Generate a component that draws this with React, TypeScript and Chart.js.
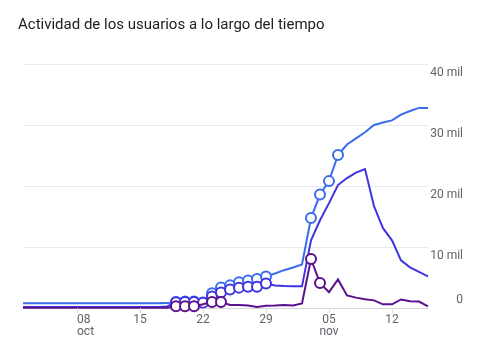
import React, { useEffect, useRef } from 'react';
import { Chart, registerables } from 'chart.js';

Chart.register(...registerables);

const TITLE = 'Actividad de los usuarios a lo largo del tiempo';

const categories = [
  'oct 02', 'oct 03', 'oct 04', 'oct 05', 'oct 06', 'oct 07', 'oct 08', 'oct 09', 'oct 10', 'oct 11',
  'oct 12', 'oct 13', 'oct 14', 'oct 15', 'oct 16', 'oct 17', 'oct 18', 'oct 19', 'oct 20', 'oct 21',
  'oct 22', 'oct 23', 'oct 24', 'oct 25', 'oct 26', 'oct 27', 'oct 28', 'oct 29', 'oct 30', 'oct 31',
  'nov 01', 'nov 02', 'nov 03', 'nov 04', 'nov 05', 'nov 06', 'nov 07', 'nov 08', 'nov 09', 'nov 10',
  'nov 11', 'nov 12', 'nov 13', 'nov 14', 'nov 15', 'nov 16',
];

const users30 = [
  780, 780, 780, 780, 780, 780, 780, 780, 780, 780,
  780, 780, 780, 780, 780, 790, 800, 1000, 1050, 1050,
  900, 2400, 3380, 3710, 4230, 4500, 4740, 5160, 5650, 6200,
  6640, 7150, 14750, 18600, 20800, 25080, 26800, 27800, 28800, 30000,
  30400, 30750, 31700, 32300, 32800, 32800,
];

const users7 = [
  150, 150, 150, 150, 150, 150, 150, 150, 150, 150,
  150, 150, 150, 150, 150, 150, 250, 950, 1000, 1000,
  880, 1890, 2550, 3040, 3340, 3500, 3490, 4030, 3700, 3600,
  3550, 3550, 11100, 14390, 17190, 20150, 21300, 22200, 22780, 16690,
  13080, 11100, 7810, 6660, 5920, 5180,
];

const users1 = [
  50, 50, 50, 50, 50, 50, 50, 50, 50, 50,
  50, 50, 50, 50, 50, 50, 50, 300, 300, 300,
  600, 1000, 1000, 500, 500, 400, 150, 350, 400, 500,
  400, 750, 8030, 4080, 2600, 4690, 2060, 1700, 1450, 1250,
  600, 600, 1400, 1100, 1050, 250,
];

const marked30 = [17, 18, 19, 20, 21, 22, 23, 24, 25, 26, 27, 32, 33, 34, 35];
const marked7 = [17, 18, 19, 20, 21, 22, 23, 24, 25, 26, 27];
const marked1 = [17, 18, 19, 21, 22, 32, 33];

const seriesNames = ['1 día', '7 días', '30 días'];

const yTickValues = [0, 10000, 20000, 30000, 40000];
const yTickLabels = ['0', '10 mil', '20 mil', '30 mil', '40 mil'];

const xTickCategories = ['oct 08', 'oct 15', 'oct 22', 'oct 29', 'nov 05', 'nov 12'];
const xTickLines = [['08', 'oct'], ['15'], ['22'], ['29'], ['05', 'nov'], ['12']];

const radii = (marked: number[]) => categories.map((_, i) => (marked.includes(i) ? 5 : 0));

const labelPlugin = {
  id: 'gaLabels',
  afterDraw(chart: any) {
    const { ctx } = chart;
    const x = chart.scales.x;
    const y = chart.scales.y;
    ctx.save();
    ctx.fillStyle = '#202124';
    ctx.font = '15px Roboto';
    ctx.textAlign = 'left';
    ctx.textBaseline = 'alphabetic';
    ctx.fillText(TITLE, 18, 29);

    ctx.font = '12px Roboto';
    ctx.fillStyle = '#5f6368';
    ctx.textAlign = 'right';
    ctx.textBaseline = 'middle';
    yTickValues.forEach((v, i) => {
      const py = y.getPixelForValue(v);
      ctx.fillText(yTickLabels[i], 463, v === 0 ? py - 8.5 : py + 8.5);
    });

    const base = y.getPixelForValue(0);
    xTickCategories.forEach((c, i) => {
      const px = x.getPixelForValue(categories.indexOf(c));
      ctx.strokeStyle = '#dadce0';
      ctx.lineWidth = 1;
      ctx.beginPath();
      ctx.moveTo(Math.round(px) + 0.5, base);
      ctx.lineTo(Math.round(px) + 0.5, base + 5);
      ctx.stroke();
      ctx.textAlign = i === 0 ? 'left' : 'center';
      xTickLines[i].forEach((t, j) => {
        ctx.fillText(t, px, base + 12 + j * 12);
      });
    });
    ctx.restore();
  },
};

export default function App() {
  const ref = useRef<HTMLCanvasElement | null>(null);

  useEffect(() => {
    if (!ref.current) return;
    const mk = (label: string, data: number[], color: string, marked: number[]) => ({
      label,
      data,
      borderColor: color,
      backgroundColor: '#ffffff',
      pointBackgroundColor: '#ffffff',
      pointBorderColor: color,
      pointBorderWidth: 2,
      pointRadius: radii(marked),
      borderWidth: 2,
      tension: 0,
      clip: false as any,
    });
    const chart = new Chart(ref.current, {
      type: 'line',
      data: {
        labels: categories,
        datasets: [
          mk(seriesNames[0], users1, '#5b118f', marked1),
          mk(seriesNames[1], users7, '#3f35e0', marked7),
          mk(seriesNames[2], users30, '#3a6cf0', marked30),
        ],
      },
      options: {
        responsive: false,
        animation: false,
        layout: { padding: { left: 23, right: 52, top: 64, bottom: 42 } },
        plugins: {
          legend: { display: false },
          tooltip: { enabled: false },
          title: { display: false },
        },
        scales: {
          x: {
            type: 'category',
            offset: false,
            grid: { display: false, drawTicks: false },
            border: { display: false },
            ticks: { display: false },
          },
          y: {
            position: 'right',
            min: 0,
            max: 40000,
            ticks: { display: false, stepSize: 10000 },
            grid: {
              drawTicks: false,
              tickLength: 0,
              color: (c: any) => (c.tick && c.tick.value === 0 ? '#d5d7da' : '#e8eaed'),
            },
            border: { display: false },
          },
        },
      },
      plugins: [labelPlugin],
    });
    return () => chart.destroy();
  }, []);

  return (
    <div style={{ position: 'fixed', left: 0, top: 0, width: 480, height: 350, background: '#ffffff' }}>
      <canvas ref={ref} width={480} height={350} style={{ display: 'block' }} />
    </div>
  );
}
